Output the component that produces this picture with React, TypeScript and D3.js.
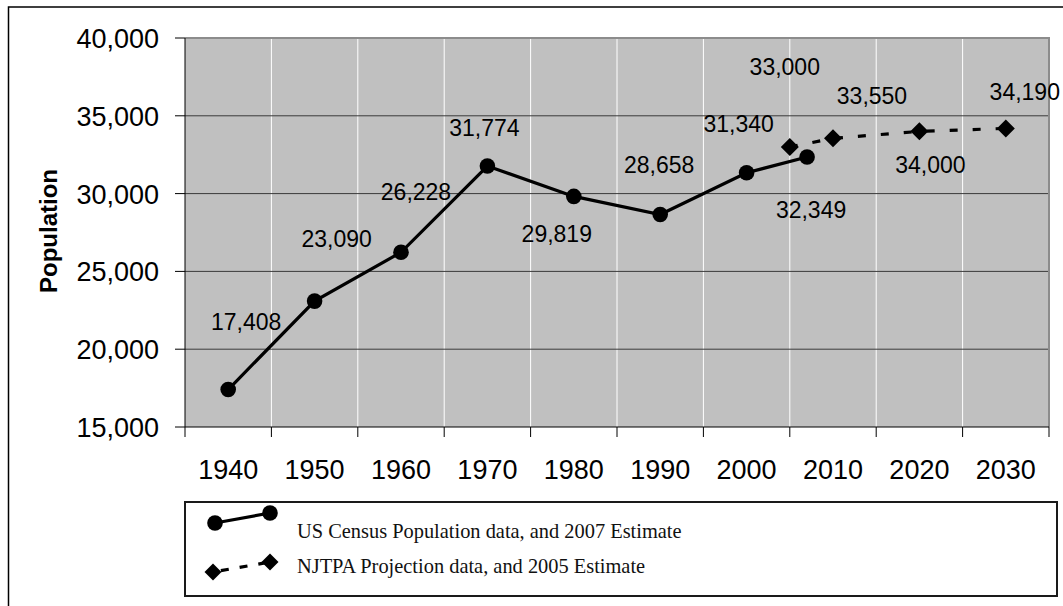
import React from 'react';
import * as d3 from 'd3';

const censusYears = [1940, 1950, 1960, 1970, 1980, 1990, 2000, 2007];
const censusValues = [17408, 23090, 26228, 31774, 29819, 28658, 31340, 32349];
const njtpaYears = [2005, 2010, 2020, 2030];
const njtpaValues = [33000, 33550, 34000, 34190];
const xTickLabels = [1940, 1950, 1960, 1970, 1980, 1990, 2000, 2010, 2020, 2030];
const yTickValues = [15000, 20000, 25000, 30000, 35000, 40000];
const legendLabels = [
  'US Census Population data, and 2007 Estimate',
  'NJTPA Projection data, and 2005 Estimate',
];
const yAxisTitle = 'Population';

// label placement offsets (pixels from point)
const censusLabelOffsets = [[18, -60], [22, -54], [15, -52], [-3, -30], [-17, 46], [-1, -41], [-8, -41], [4, 61]];
const njtpaLabelOffsets = [[-5, -72], [39, -34], [11, 42], [19, -28]];

const W = 1063;
const H = 606;
const plot = { left: 185, right: 1049, top: 38, bottom: 427 };

export default function App() {
  const x = d3.scaleLinear().domain([1935, 2035]).range([plot.left, plot.right]);
  const y = d3.scaleLinear().domain([15000, 40000]).range([plot.bottom, plot.top]);
  const fmt = d3.format(',');
  const gridYears = d3.range(1935, 2036, 10);

  const census = censusYears.map((yr, i) => ({ yr, v: censusValues[i] }));
  const njtpa = njtpaYears.map((yr, i) => ({ yr, v: njtpaValues[i] }));
  const line = d3.line<{ yr: number; v: number }>().x(d => x(d.yr)).y(d => y(d.v));

  const diamond = (cx: number, cy: number, r: number) =>
    `M${cx},${cy - r}L${cx + r},${cy}L${cx},${cy + r}L${cx - r},${cy}Z`;

  const sans = 'Liberation Sans, Arial, sans-serif';
  const serif = 'Liberation Serif, Times New Roman, serif';

  return (
    <svg width={W} height={H} style={{ position: 'absolute', left: 0, top: 0, background: '#fff' }}>
      <rect x={8.5} y={7} width={W + 10} height={H + 10} fill="#fff" stroke="#000" strokeWidth={1.5} />
      {/* plot background */}
      <rect x={plot.left} y={plot.top} width={plot.right - plot.left} height={plot.bottom - plot.top} fill="#c0c0c0" />
      {/* vertical gridlines */}
      {gridYears.slice(1, -1).map(g => (
        <line key={'vg' + g} x1={x(g)} x2={x(g)} y1={plot.top} y2={plot.bottom} stroke="#fff" strokeWidth={1} />
      ))}
      {/* horizontal gridlines */}
      {yTickValues.slice(1, -1).map(t => (
        <line key={'hg' + t} x1={plot.left} x2={plot.right} y1={y(t)} y2={y(t)} stroke="#3a3a3a" strokeWidth={1} />
      ))}
      {/* frame top/right */}
      <polyline
        points={`${plot.left},${plot.top} ${plot.right},${plot.top} ${plot.right},${plot.bottom}`}
        fill="none" stroke="#8c8c8c" strokeWidth={2}
      />
      {/* axes */}
      <line x1={plot.left} x2={plot.left} y1={plot.top} y2={plot.bottom} stroke="#000" strokeWidth={1} />
      <line x1={plot.left} x2={plot.right} y1={plot.bottom} y2={plot.bottom} stroke="#000" strokeWidth={1} />
      {yTickValues.map(t => (
        <g key={'yt' + t}>
          <line x1={plot.left - 10} x2={plot.left} y1={y(t)} y2={y(t)} stroke="#000" strokeWidth={1} />
          <text x={159} y={y(t) + 10} textAnchor="end" fontFamily={sans} fontSize={27} fill="#000">{fmt(t)}</text>
        </g>
      ))}
      {gridYears.map(g => (
        <line key={'xt' + g} x1={x(g)} x2={x(g)} y1={plot.bottom} y2={plot.bottom + 10} stroke="#000" strokeWidth={1} />
      ))}
      {xTickLabels.map(l => (
        <text key={'xl' + l} x={x(l)} y={479} textAnchor="middle" fontFamily={sans} fontSize={27} fill="#000">{l}</text>
      ))}
      <text
        transform={`translate(57,231) rotate(-90)`}
        textAnchor="middle" fontFamily={sans} fontWeight="bold" fontSize={24} fill="#000"
      >{yAxisTitle}</text>

      {/* series */}
      <path d={line(njtpa) || ''} fill="none" stroke="#000" strokeWidth={3.2} strokeDasharray="8,15" />
      <path d={line(census) || ''} fill="none" stroke="#000" strokeWidth={3.2} />
      {census.map((d, i) => (
        <circle key={'c' + i} cx={x(d.yr)} cy={y(d.v)} r={7.8} fill="#000" />
      ))}
      {njtpa.map((d, i) => (
        <path key={'d' + i} d={diamond(x(d.yr), y(d.v), 9)} fill="#000" />
      ))}
      {census.map((d, i) => (
        <text key={'cl' + i} x={x(d.yr) + censusLabelOffsets[i][0]} y={y(d.v) + censusLabelOffsets[i][1]}
          textAnchor="middle" fontFamily={sans} fontSize={23} fill="#000">{fmt(d.v)}</text>
      ))}
      {njtpa.map((d, i) => (
        <text key={'nl' + i} x={x(d.yr) + njtpaLabelOffsets[i][0]} y={y(d.v) + njtpaLabelOffsets[i][1]}
          textAnchor="middle" fontFamily={sans} fontSize={23} fill="#000">{fmt(d.v)}</text>
      ))}

      {/* legend */}
      <rect x={185} y={502} width={872} height={94} fill="#fff" stroke="#1a1a1a" strokeWidth={2} />
      <line x1={215} y1={523} x2={270} y2={513} stroke="#000" strokeWidth={3.2} />
      <circle cx={215} cy={523} r={7.8} fill="#000" />
      <circle cx={270} cy={513} r={7.8} fill="#000" />
      <line x1={213} y1={572} x2={270} y2={562} stroke="#000" strokeWidth={3.2} strokeDasharray="8,11" strokeDashoffset={-8} />
      <path d={diamond(213, 572, 8.5)} fill="#000" />
      <path d={diamond(270, 562, 8.5)} fill="#000" />
      <text x={297} y={538} fontFamily={serif} fontSize={20.4} fill="#111">{legendLabels[0]}</text>
      <text x={297} y={573} fontFamily={serif} fontSize={20.4} fill="#111">{legendLabels[1]}</text>
    </svg>
  );
}
